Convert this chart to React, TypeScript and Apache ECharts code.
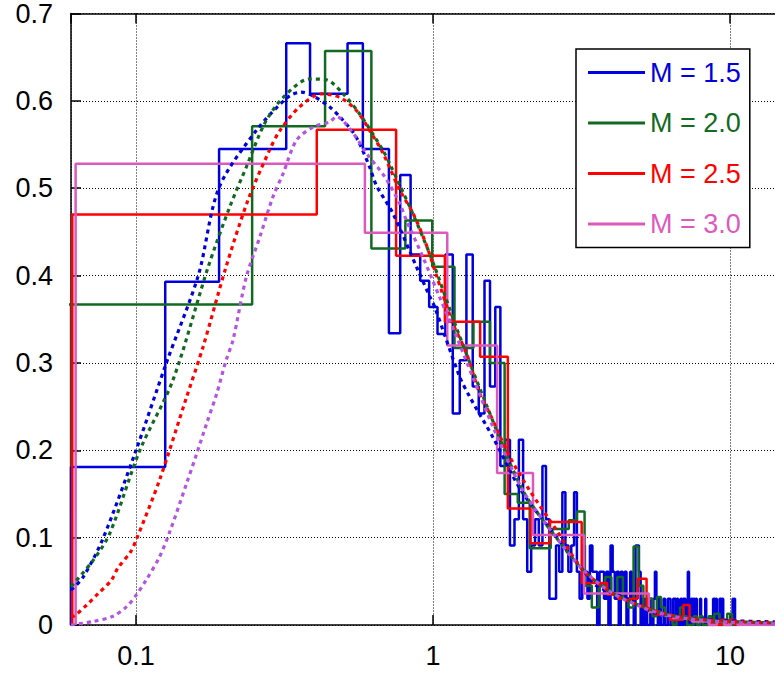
import React, { useEffect, useRef } from "react";
import * as echarts from "echarts";

// ---- axes ----
const xMin = 0.0604;
const xMax = 16;
const yMin = 0;
const yMax = 0.7;
const yStep = 0.1;

// ---- legend / series names ----
const seriesNames = ["M = 1.5", "M = 2.0", "M = 2.5", "M = 3.0"];
const histColors = ["#0000dd", "#126a22", "#ff0000", "#dc5abe"];
const curveColors = ["#0000dd", "#126a22", "#ff0000", "#b455e0"];

// ---- histograms (linear bins): start, width, densities ----
const blueBinStart = 0.0604;
const blueBinWidth = 0.065;
const blueHist = [
  0.181, 0.393, 0.545, 0.545, 0.666, 0.608, 0.608, 0.666, 0.545, 0.545,
  0.334, 0.515, 0.424, 0.394, 0.364, 0.333, 0.424, 0.242, 0.303, 0.424,
  0.273, 0.242, 0.394, 0.273, 0.364, 0.182, 0.212, 0.091, 0.121, 0.212,
  0.121, 0.061, 0.091, 0.121, 0.091, 0.182, 0.121, 0.030, 0.030, 0.091,
  0.061, 0.152, 0.091, 0.061, 0.091, 0.152, 0.061, 0.030, 0.091, 0.061,
  0.030, 0.091, 0.061, 0.061, 0.000, 0.061, 0.061, 0.030, 0.061, 0.000,
  0.091, 0.061, 0.030, 0.061, 0.000, 0.061, 0.030, 0.061, 0.000, 0.030,
  0.061, 0.030, 0.000, 0.091, 0.091, 0.061, 0.000, 0.030, 0.000, 0.030,
  0.000, 0.000, 0.030, 0.000, 0.030, 0.061, 0.030, 0.000, 0.030, 0.000,
  0.000, 0.030, 0.000, 0.000, 0.030, 0.030, 0.000, 0.000, 0.030, 0.030,
  0.000, 0.030, 0.000, 0.000, 0.030, 0.000, 0.030, 0.030, 0.000, 0.000,
  0.061, 0.030, 0.000, 0.030, 0.000, 0.030, 0.000, 0.030, 0.000, 0.000,
  0.000, 0.030, 0.000, 0.000, 0.000, 0.000, 0.030, 0.000, 0.000, 0.000,
  0.000, 0.000, 0.000, 0.000, 0.030, 0.030, 0.000, 0.030, 0.000, 0.000,
  0.000, 0.030, 0.030, 0.000, 0.030, 0.000, 0.000, 0.000, 0.000, 0.000,
  0.000, 0.000, 0.000, 0.000, 0.000, 0.000, 0.030, 0.000, 0.030, 0.000,
];

const greenBinStart = 0.059;
const greenBinWidth = 0.187;
const greenHist = [
  0.367, 0.571, 0.657, 0.431, 0.463, 0.41, 0.317, 0.347, 0.30, 0.15,
  0.14, 0.088, 0.088, 0.11, 0.11, 0.12, 0.13, 0.045, 0.02, 0.045,
  0.055, 0.035, 0.055, 0.03, 0.02, 0.09, 0.045, 0.02, 0.03, 0.01,
  0.032, 0.02, 0.01, 0.01, 0.0, 0.01, 0.02, 0.01, 0.0, 0.0,
  0.01, 0.0, 0.01, 0.0, 0.0, 0.01, 0.0, 0.013, 0.013, 0.0,
  0.0, 0.0, 0.013, 0.013, 0.0,
];

const redBinStart = 0.061;
const redBinWidth = 0.345;
const redHist = [
  0.47, 0.567, 0.4226, 0.347, 0.307, 0.1335, 0.0935, 0.118, 0.118, 0.048,
  0.048, 0.035, 0.03, 0.03, 0.053, 0.017, 0.012, 0.012, 0.006, 0.006,
  0.023, 0.006, 0.006, 0.006, 0.006, 0.0, 0.0, 0.006, 0.0, 0.006,
  0.0,
];

const pinkBinStart = 0.0626;
const pinkBinWidth = 0.527;
const pinkHist = [
  0.528, 0.449, 0.32, 0.174, 0.103, 0.103, 0.036, 0.036, 0.036, 0.036,
  0.015, 0.011, 0.008, 0.008, 0.004, 0.004, 0.0, 0.004, 0.0, 0.004,
  0.0, 0.0, 0.0, 0.0, 0.0, 0.0, 0.0,
];

// ---- fitted density curves (dashed), [x, y] ----
const blueCurve = [
  [0.0604, 0.04], [0.0664, 0.055], [0.0774, 0.099], [0.1, 0.2], [0.1265, 0.3],
  [0.162, 0.4], [0.19, 0.5], [0.254, 0.566], [0.324, 0.604], [0.36, 0.61],
  [0.393, 0.606], [0.449, 0.593], [0.491, 0.58], [0.538, 0.564], [0.566, 0.551],
  [0.612, 0.524], [0.645, 0.503], [0.733, 0.471], [0.89, 0.406], [0.975, 0.376],
  [1.013, 0.364], [1.23, 0.284], [1.33, 0.261], [1.59, 0.215], [1.98, 0.154],
  [2.6, 0.101], [3.2, 0.063], [3.55, 0.045], [4.6, 0.0286], [5.65, 0.0134],
  [7.3, 0.0077], [10, 0.005], [16, 0.003],
];
const greenCurve = [
  [0.0604, 0.044], [0.0717, 0.074], [0.0816, 0.105], [0.103, 0.2], [0.133, 0.28],
  [0.175, 0.41], [0.207, 0.479], [0.235, 0.524], [0.271, 0.574], [0.313, 0.604],
  [0.384, 0.625], [0.438, 0.624], [0.498, 0.608], [0.566, 0.585], [0.679, 0.543],
  [0.724, 0.524], [0.857, 0.47], [1.0, 0.415], [1.2, 0.34], [1.5, 0.255],
  [2.0, 0.155], [2.6, 0.1], [3.2, 0.063], [4.0, 0.037], [5.0, 0.022],
  [6.0, 0.013], [7.3, 0.0077], [10, 0.004], [16, 0.002],
];
const redCurve = [
  [0.0604, 0.009], [0.0623, 0.011], [0.0683, 0.023], [0.0746, 0.036], [0.0825, 0.051],
  [0.0868, 0.065], [0.096, 0.084], [0.1, 0.097], [0.12, 0.166], [0.148, 0.261],
  [0.168, 0.318], [0.201, 0.41], [0.238, 0.486], [0.281, 0.543], [0.305, 0.566],
  [0.355, 0.593], [0.421, 0.608], [0.485, 0.604], [0.552, 0.589], [0.612, 0.566],
  [0.679, 0.54], [0.772, 0.498], [0.857, 0.471], [0.95, 0.435], [1.027, 0.4],
  [1.168, 0.345], [1.296, 0.311], [1.436, 0.265], [1.552, 0.242], [1.81, 0.193],
  [2.115, 0.154], [2.6, 0.109], [3.2, 0.063], [4.03, 0.036], [5.0, 0.022],
  [6.0, 0.013], [7.3, 0.0077], [10, 0.004], [16, 0.002],
];
const purpleCurve = [
  [0.0604, 0.0], [0.0717, 0.004], [0.0836, 0.01], [0.093, 0.021], [0.1, 0.034],
  [0.108, 0.051], [0.12, 0.078], [0.13, 0.107], [0.148, 0.162], [0.16, 0.196],
  [0.173, 0.231], [0.187, 0.265], [0.201, 0.303], [0.212, 0.326], [0.235, 0.398],
  [0.261, 0.444], [0.289, 0.49], [0.313, 0.517], [0.347, 0.555], [0.395, 0.57],
  [0.449, 0.576], [0.473, 0.582], [0.538, 0.563], [0.597, 0.54], [0.688, 0.513],
  [0.772, 0.4825], [0.814, 0.463], [0.925, 0.421], [1.05, 0.376], [1.2, 0.33],
  [1.36, 0.284], [1.6, 0.225], [2.0, 0.155], [2.6, 0.1], [3.2, 0.063],
  [4.0, 0.037], [5.0, 0.021], [6.0, 0.012], [7.3, 0.007], [10, 0.003], [16, 0.001],
];

function stairs(start: number, width: number, vals: number[]) {
  const pts: number[][] = [[start, 0]];
  vals.forEach((v, i) => {
    const a = start + i * width;
    pts.push([a, v], [a + width, v]);
  });
  pts.push([start + vals.length * width, 0]);
  return pts;
}

const FONT = "'Liberation Sans', Arial, sans-serif";
const W = 800;
const H = 675;
const LEFT = 71;
const TOP = 13;
const BOTTOM = 50;
const DECADE = 297;
const plotW = DECADE * (Math.log10(xMax) - Math.log10(xMin));

export default function App() {
  const ref = useRef<HTMLDivElement>(null);
  useEffect(() => {
    document.body.style.margin = "0";
    document.body.style.overflow = "hidden";
    document.documentElement.style.overflow = "hidden";
    const chart = echarts.init(ref.current!, null, { renderer: "svg" });
    const axisCommon = {
      type: "log" as const,
      logBase: 10,
      min: xMin,
      max: xMax,
    };
    const hists = [
      stairs(blueBinStart, blueBinWidth, blueHist),
      stairs(greenBinStart, greenBinWidth, greenHist),
      stairs(redBinStart, redBinWidth, redHist),
      stairs(pinkBinStart, pinkBinWidth, pinkHist),
    ];
    const curves = [blueCurve, greenCurve, redCurve, purpleCurve];
    const series: any[] = [];
    hists.forEach((d, i) => {
      series.push({
        name: seriesNames[i],
        type: "line",
        data: d,
        symbol: "none",
        showSymbol: false,
        silent: true,
        lineStyle: { color: histColors[i], width: 2.5 },
        itemStyle: { color: histColors[i] },
        z: 2 + i,
      });
    });
    curves.forEach((d, i) => {
      series.push({
        name: "fit " + seriesNames[i],
        type: "line",
        data: d,
        smooth: 0.3,
        symbol: "none",
        showSymbol: false,
        silent: true,
        lineStyle: { color: curveColors[i], width: 3.2, type: [4, 4] },
        itemStyle: { color: curveColors[i] },
        z: 10 + i,
      });
    });
    chart.setOption({
      animation: false,
      grid: { left: LEFT, top: TOP, width: plotW, bottom: BOTTOM, containLabel: false },
      xAxis: [
        {
          ...axisCommon,
          position: "bottom",
          axisLine: { show: true, onZero: false, lineStyle: { color: "#000", width: 1.5 } },
          axisTick: { show: true, inside: true, length: 10, lineStyle: { color: "#000", width: 1.5 } },
          minorTick: { show: false },
          minorSplitLine: { show: false },
          axisLabel: {
            show: true,
            fontSize: 27,
            fontFamily: FONT,
            color: "#000",
            margin: 17,
            showMinLabel: false,
            showMaxLabel: false,
          },
          splitLine: { show: true, lineStyle: { color: "#000", width: 1, type: [1, 2] } },
        },
        {
          ...axisCommon,
          position: "top",
          axisLine: { show: true, onZero: false, lineStyle: { color: "#000", width: 1.5 } },
          axisTick: { show: true, inside: true, length: 10, lineStyle: { color: "#000", width: 1.5 } },
          axisLabel: { show: false },
          splitLine: { show: false },
        },
      ],
      yAxis: {
        type: "value",
        min: yMin,
        max: yMax,
        interval: yStep,
        axisLine: { show: true, lineStyle: { color: "#000", width: 1.5 } },
        axisTick: { show: true, inside: true, length: 10, lineStyle: { color: "#000", width: 1.5 } },
        axisLabel: { fontSize: 27, fontFamily: FONT, color: "#000", margin: 18 },
        splitLine: { show: true, lineStyle: { color: "#000", width: 1, type: [1, 2] } },
      },
      legend: {
        data: seriesNames.map((n, i) => ({ name: n, icon: "rect", textStyle: { color: histColors[i] } })),
        orient: "vertical",
        left: 576,
        top: 49,
        itemWidth: 57,
        itemHeight: 3,
        itemGap: 23.5,
        padding: [10, 9, 10, 12],
        backgroundColor: "#fff",
        borderColor: "#000",
        borderWidth: 1.5,
        borderRadius: 0,
        selectedMode: false,
        textStyle: { fontSize: 27, fontFamily: FONT },
      },
      series,
    });
    return () => chart.dispose();
  }, []);
  return (
    <div
      ref={ref}
      style={{ position: "fixed", left: 0, top: 0, width: W, height: H, background: "#fff" }}
    />
  );
}
